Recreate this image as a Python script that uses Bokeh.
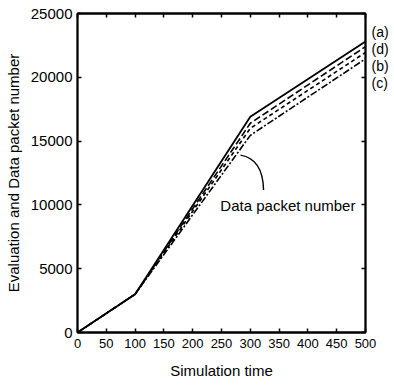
from bokeh.plotting import figure
from bokeh.models import Range1d, LinearAxis, Label, FixedTicker
from bokeh.embed import file_html
from bokeh.resources import INLINE

# data
sim_time = [0, 100, 300, 500]
series_a = [0, 3000, 16900, 22800]
series_d = [0, 3000, 16400, 22400]
series_b = [0, 3000, 16000, 21950]
series_c = [0, 3000, 15450, 21450]
series_names = ["(a)", "(d)", "(b)", "(c)"]
series_label_y = [23516, 22187, 20859, 19531]
x_ticks = [0, 50, 100, 150, 200, 250, 300, 350, 400, 450, 500]
y_ticks = [0, 5000, 10000, 15000, 20000, 25000]

FONT = "Liberation Sans"

p = figure(width=394, height=387, output_backend="svg", toolbar_location=None,
           x_range=Range1d(0, 500), y_range=Range1d(0, 25000),
           min_border_left=77, min_border_right=29, min_border_top=13, min_border_bottom=55)
p.xgrid.visible = False
p.ygrid.visible = False
p.outline_line_color = "black"
p.outline_line_width = 1.8
p.background_fill_color = "white"

def style_axis(ax, label_size):
    ax.axis_line_color = "black"
    ax.axis_line_width = 1.8
    ax.major_tick_in = 4
    ax.major_tick_out = 0
    ax.major_tick_line_width = 1.5
    ax.minor_tick_in = 4
    ax.minor_tick_out = 0
    ax.minor_tick_line_width = 1.5
    ax.minor_tick_line_color = "black"
    ax.major_label_text_font = FONT
    ax.major_label_text_font_size = label_size
    ax.major_label_text_color = "black"
    ax.axis_label_text_font = FONT
    ax.axis_label_text_font_style = "normal"
    ax.axis_label_text_font_size = "15px"
    ax.axis_label_text_color = "black"

xa = p.xaxis[0]
style_axis(xa, "13px")
xa.ticker = FixedTicker(ticks=x_ticks)
xa.minor_tick_line_color = None
xa.axis_label = "Simulation time"
xa.major_label_standoff = 6
xa.axis_label_standoff = 11

ya = p.yaxis[0]
style_axis(ya, "15px")
ya.ticker = FixedTicker(ticks=y_ticks)
ya.minor_tick_line_color = None
ya.axis_label = "Evaluation and Data packet number"
ya.major_label_standoff = 5
ya.axis_label_standoff = 6

# mirrored ticks on top (no labels)
top = LinearAxis()
style_axis(top, "13px")
top.ticker = FixedTicker(ticks=[], minor_ticks=x_ticks)
top.major_label_standoff = 0
p.add_layout(top, "above")

# right axis: mirrored ticks (as minor ticks) + series labels
right = LinearAxis()
style_axis(right, "14px")
right.ticker = FixedTicker(ticks=series_label_y, minor_ticks=y_ticks)
right.major_tick_line_color = None
right.major_label_overrides = {yy: name for yy, name in zip(series_label_y, series_names)}
right.major_label_standoff = 6
p.add_layout(right, "right")

p.line(sim_time, series_a, line_color="black", line_width=1.8)
p.line(sim_time, series_d, line_color="black", line_width=1.6, line_dash="7 3")
p.line(sim_time, series_b, line_color="black", line_width=1.6, line_dash="4 3")
p.line(sim_time, series_c, line_color="black", line_width=1.6, line_dash="7 2 2 2")

# annotation arrow curve
p.quadratic(x0=[323], y0=[11170], x1=[283], y1=[13900], cx=[322], cy=[13600],
            line_color="black", line_width=1.4)
p.add_layout(Label(x=248, y=9922, text="Data packet number", text_font=FONT,
                   text_font_size="15px", text_color="black",
                   text_baseline="alphabetic"))

open("out.html", "w").write(file_html(p, INLINE))
